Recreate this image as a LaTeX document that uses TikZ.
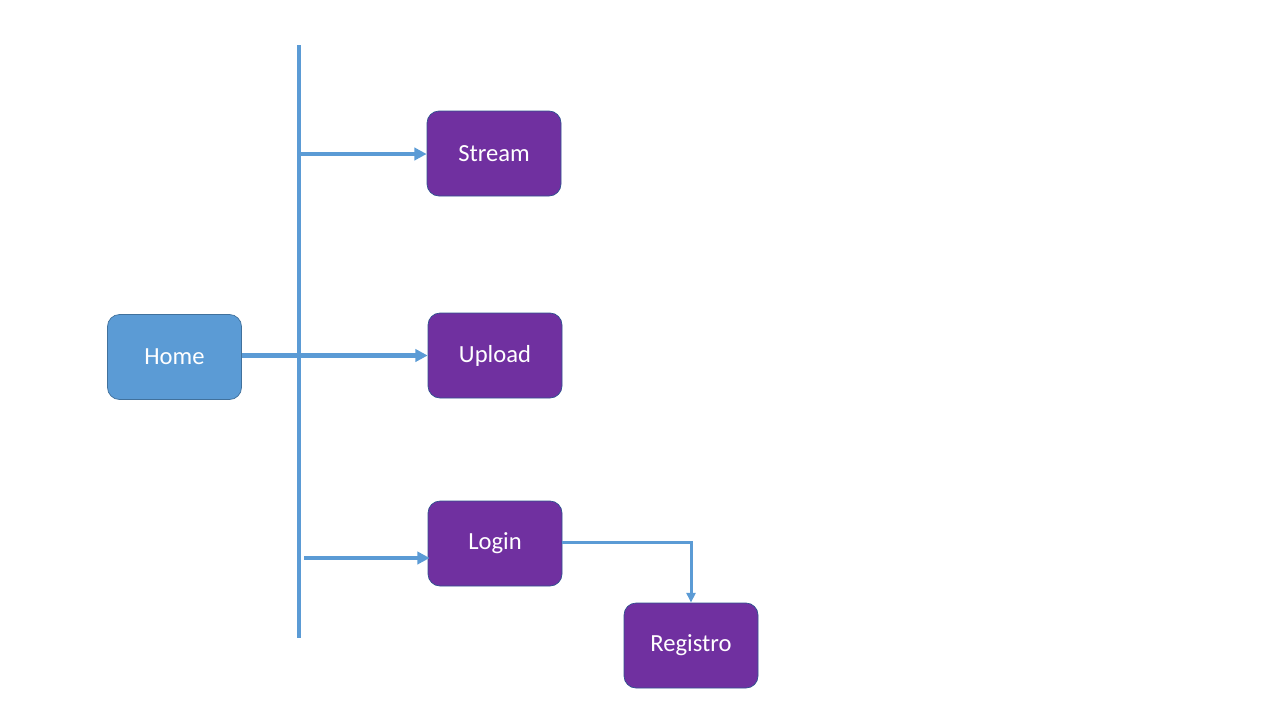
\documentclass[tikz,border=0pt]{standalone}
\usepackage{fontspec}
\setmainfont{Carlito}
\usetikzlibrary{positioning,calc,arrows.meta}
\definecolor{homeblue}{HTML}{5B9BD5}
\definecolor{homeedge}{HTML}{41719C}
\definecolor{pagepurple}{HTML}{7030A0}
\definecolor{pageedge}{HTML}{2F528F}
\tikzset{
  pagebox/.style={draw=pageedge, fill=pagepurple, rounded corners=0.24cm, minimum width=2.68cm, minimum height=1.7cm, text=white, font=\fontsize{14}{16}\selectfont},
  homebox/.style={pagebox, draw=homeedge, fill=homeblue},
  link/.style={draw=homeblue, line width=2.3pt, -{Triangle[length=7pt,width=7pt]}},
  thinlink/.style={draw=homeblue, line width=1.7pt, -{Triangle[length=5.5pt,width=5pt]}}
}
\begin{document}
\begin{tikzpicture}
    \useasboundingbox (0,0) rectangle (25.6,-14.4);

    % bus line
    \coordinate (bustop) at (5.98,-0.9);
    \coordinate (busbot) at (5.98,-12.76);
    \draw[homeblue, line width=2.3pt] (bustop) -- (busbot);

    % pages
    \node[homebox] (home) at (3.49,-7.14) {Home};
    \node[pagebox] (stream) at (9.88,-3.07) {Stream};
    \node[pagebox] (upload) at (9.9,-7.11) {Upload};
    \node[pagebox] (login) at (9.9,-10.87) {Login};
    \node[pagebox] (registro) at (13.82,-12.91) {Registro};

    % links from the bus
    \coordinate (tostream) at (6.02,-3.08);
    \draw[link] (tostream) -- (stream.west |- tostream);
    \draw[link] (home.east |- upload.west) -- (upload.west);
    \coordinate (tologin) at (6.08,-11.16);
    \draw[link] (tologin) -- ($(login.west |- tologin)+(0.04,0)$);

    % login to registro
    \draw[thinlink] ($(login.east)+(0,0.02)$) -| (registro.north);
\end{tikzpicture}
\end{document}
